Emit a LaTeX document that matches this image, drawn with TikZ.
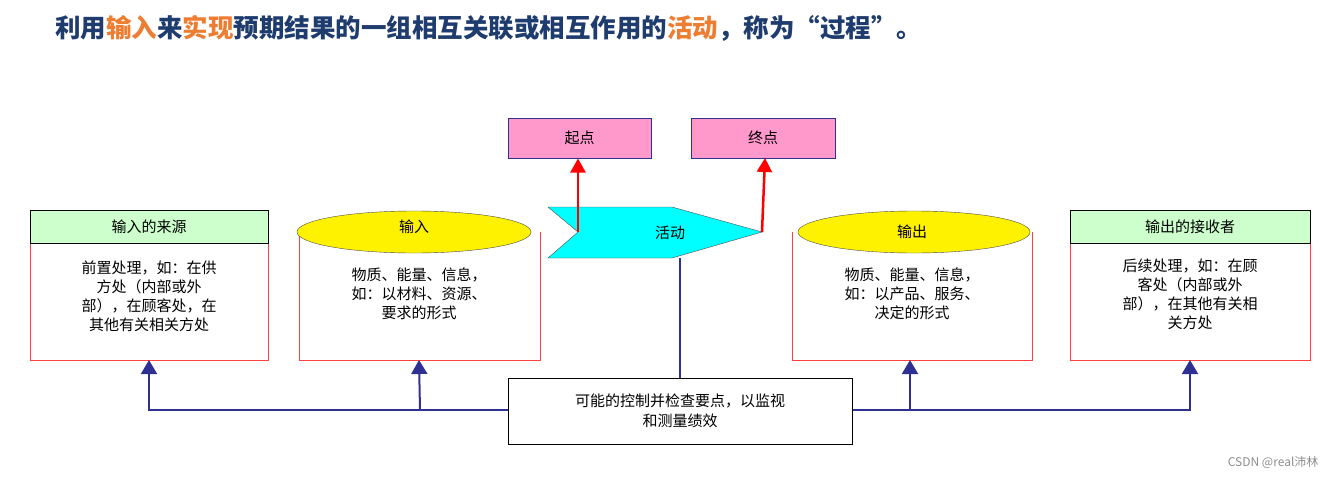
\documentclass[tikz,border=0pt]{standalone}
\usepackage{fontspec}
\setmainfont{Noto Sans CJK SC}
\usetikzlibrary{arrows.meta}
\definecolor{tblue}{HTML}{1F3C6E}
\definecolor{torange}{HTML}{ED7D31}
\definecolor{lblue}{HTML}{2E3192}
\definecolor{pinkf}{HTML}{FF99CC}
\definecolor{greenf}{HTML}{CCFFCC}
\definecolor{boxred}{HTML}{FF4040}
\definecolor{cyanf}{HTML}{00FFFF}
\begin{document}
\begin{tikzpicture}[x=1pt,y=-1pt,
  body/.style={draw=boxred,line width=1pt},
  txt/.style={font=\fontsize{15}{19}\selectfont,align=center},
  conn/.style={draw=lblue,line width=2pt},
  uarr/.style={conn,-{Triangle[length=14pt,width=16pt]}},
  rarr/.style={draw=red,line width=2.5pt,-{Triangle[length=14pt,width=15pt]}},
  tbox/.style={draw=lblue,line width=1pt,fill=pinkf}]
\useasboundingbox (0,0) rectangle (1337,479);
\node[anchor=west,font=\fontsize{25.5}{30}\selectfont\bfseries,text=tblue,inner sep=0] (title) at (55,28)
 {利用\textcolor{torange}{输入}来\textcolor{torange}{实现}预期结果的一组相互关联或相互作用的\textcolor{torange}{活动}，称为“过程”。};
% box 1
\draw[body] (30,243) rectangle (268,360);
\draw[fill=greenf,draw=black,line width=1pt] (30,210) rectangle (268,243);
\node[font=\fontsize{15}{17}\selectfont] (h1) at (149,227) {输入的来源};
\node[txt] (t1) at (149,296) {前置处理，如：在供\\方处（内部或外\\部），在顾客处，在\\其他有关相关方处};
\coordinate (b1) at (149,360);
% cylinder 1
\draw[body] (299,232) -- (299,360) -- (540,360) -- (540,232);
\draw[fill=yellow,draw=black!70] (414,232) ellipse (117pt and 21pt);
\node[font=\fontsize{15}{17}\selectfont] (h2) at (414,227) {输入};
\node[txt] (t2) at (419,294) {物质、能量、信息，\\如：以材料、资源、\\要求的形式};
\coordinate (b2) at (419,360);
% cylinder 2
\draw[body] (792,232) -- (792,360) -- (1032,360) -- (1032,232);
\draw[fill=yellow,draw=black!70] (914,232) ellipse (116pt and 21pt);
\node[font=\fontsize{15}{17}\selectfont] (h3) at (912,232) {输出};
\node[txt] (t3) at (912,294) {物质、能量、信息，\\如：以产品、服务、\\决定的形式};
\coordinate (b3) at (910,360);
% box 4
\draw[body] (1070,243) rectangle (1310,360);
\draw[fill=greenf,draw=black,line width=1pt] (1070,210) rectangle (1310,243);
\node[font=\fontsize{15}{17}\selectfont] (h4) at (1190,227) {输出的接收者};
\node[txt] (t4) at (1190,294) {后续处理，如：在顾\\客处（内部或外\\部），在其他有关相\\关方处};
\coordinate (b4) at (1190,360);
% activity
\draw[fill=cyanf,draw=black!70] (548,207) -- (672,207) -- (762,232) -- (672,258) -- (548,258) -- (578,232) -- cycle;
\node[font=\fontsize{15}{17}\selectfont] (act) at (670,233) {活动};
\coordinate (aL) at (578,232);
\coordinate (aR) at (762,232);
\coordinate (aB) at (680,258);
% top boxes
\node[tbox,minimum width=143pt,minimum height=40pt,font=\fontsize{15}{17}\selectfont] (start) at (579.5,138) {起点};
\node[tbox,minimum width=144pt,minimum height=40pt,font=\fontsize{15}{17}\selectfont] (end) at (763,138) {终点};
\draw[rarr] (aL) -- (start.south -| aL);
\draw[rarr] (aR) -- (765,158);
% control
\node[draw=black,line width=1pt,minimum width=344pt,minimum height=66pt,align=center,font=\fontsize{15}{20}\selectfont] (ctl) at (680,411) {可能的控制并检查要点，以监视\\和测量绩效};
\draw[conn] (aB) -- (ctl.north -| aB);
\draw[uarr] (ctl.west |- 0,410) -| (b1);
\draw[uarr] (420,410) -- (b2);
\draw[uarr] (ctl.east |- 0,410) -| (b4);
\draw[uarr] (910,410) -- (b3);
\node[anchor=east,text=black!45,font=\fontsize{12}{14}\selectfont] (wm) at (1322,462) {CSDN @real沛林};
\end{tikzpicture}
\end{document}
